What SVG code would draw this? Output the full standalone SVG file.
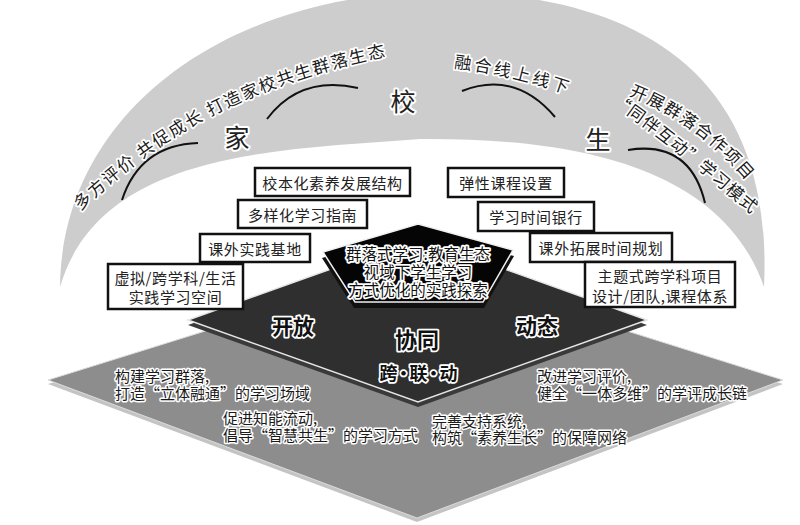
<svg xmlns="http://www.w3.org/2000/svg" width="800" height="525" viewBox="0 0 800 525">
<defs>
<style>
text{font-family:"Noto Sans CJK SC","Noto Sans",sans-serif;}
.halo{paint-order:stroke;stroke:#fff;stroke-linejoin:round;}
.arc{font-size:17px;fill:#1a1a1a;stroke-width:3.5px;letter-spacing:2px;}
.big{font-size:25px;fill:#222;stroke-width:4px;text-anchor:middle;dominant-baseline:central;}
.box rect{fill:#fff;stroke:#111;stroke-width:2.5;}
.box text{font-size:15px;fill:#222;text-anchor:middle;dominant-baseline:central;letter-spacing:0.6px;}
.dark{fill:#111;stroke-width:3.5px;font-weight:bold;text-anchor:middle;dominant-baseline:central;}
.gl{font-size:15px;fill:#1a1a1a;stroke-width:3px;dominant-baseline:central;}
.curve{fill:none;stroke:#111;stroke-width:2;}
</style>
<path id="p1" d="M72,208 C150,135 230,80 400,45"/>
<path id="p2" d="M455,60 Q520,68 585,92"/>
<path id="p3" d="M628,87 Q705,115 762,187"/>
<path id="p4" d="M616,97 Q680,141 768,218"/>
</defs>
<rect width="800" height="525" fill="#fff"/>

<g id="arch">
<path d="M60,287 C62,110 230,-8 440,-8 C620,-8 775,60 764,287 C720,160 560,138 420,139 C280,150 100,150 60,287 Z" fill="#cdcdcd"/>
</g>

<g id="connectors">
<path class="curve" d="M122,200 Q140,145 198,143"/>
<path class="curve" d="M267,119 Q300,75 358,88"/>
<path class="curve" d="M462,91 Q515,70 555,117"/>
<path class="curve" d="M628,150 Q690,140 705,203"/>
</g>

<g id="arch-labels">
<text class="arc halo" dominant-baseline="central"><textPath href="#p1" startOffset="4">多方评价 共促成长 打造家校共生群落生态</textPath></text>
<text class="arc halo" dominant-baseline="central" style="letter-spacing:3px"><textPath href="#p2" startOffset="0">融合线上线下</textPath></text>
<text class="arc halo" dominant-baseline="central"><textPath href="#p3" startOffset="4">开展群落合作项目</textPath></text>
<text class="arc halo" dominant-baseline="central" style="letter-spacing:1px"><textPath href="#p4" startOffset="0">“同伴互动”学习模式</textPath></text>
</g>

<g id="node-jia"><text class="big halo" x="237" y="136">家</text></g>
<g id="node-xiao"><text class="big halo" x="403" y="100">校</text></g>
<g id="node-sheng"><text class="big halo" x="598" y="138">生</text></g>

<g id="layer-bottom">
<polygon points="48,384 417,269 783,384 417,522" fill="#c4c4c4"/>
<polygon points="48,380 417,265 783,380 417,518" fill="#8d8d8d" stroke="#dcdcdc" stroke-width="1"/>
<text class="gl halo" x="115" y="375">构建学习群落,</text>
<text class="gl halo" x="115" y="392">打造“立体融通”的学习场域</text>
<text class="gl halo" x="223" y="417">促进知能流动,</text>
<text class="gl halo" x="223" y="434">倡导“智慧共生”的学习方式</text>
<text class="gl halo" x="537" y="375">改进学习评价,</text>
<text class="gl halo" x="537" y="392">健全“一体多维”的学评成长链</text>
<text class="gl halo" x="432" y="420">完善支持系统,</text>
<text class="gl halo" x="432" y="436">构筑“素养生长”的保障网络</text>
</g>

<g id="layer-middle">
<polygon points="188,325 418,243 647,325 418,407" fill="#3a3a3a"/>
<polygon points="188,320 418,238 647,320 418,402" fill="#2f2f2f" stroke="#e6e6e6" stroke-width="1.5"/>
<text class="dark halo" x="293" y="325" font-size="21">开放</text>
<text class="dark halo" x="417" y="338" font-size="22">协同</text>
<text class="dark halo" x="537" y="325" font-size="21">动态</text>
<text class="dark halo" x="417" y="372" font-size="18" style="letter-spacing:-3px">跨·联·动</text>
</g>

<g id="node-core">
<polygon points="418,230 514,256 484,308 354,308 322,258" fill="#111"/>
<polygon points="418,224 513,250 483,302 355,302 323,252" fill="#050505" stroke="#f0f0f0" stroke-width="1.5"/>
<text class="dark halo" x="418" y="253" font-size="15.5" style="font-weight:normal">群落式学习:教育生态</text>
<text class="dark halo" x="418" y="271" font-size="15.5" style="font-weight:normal">视域下学生学习</text>
<text class="dark halo" x="418" y="289" font-size="15.5" style="font-weight:normal">方式优化的实践探索</text>
</g>

<g id="box-l1" class="box"><rect x="255" y="168" width="155" height="28"/><text x="332.5" y="182">校本化素养发展结构</text></g>
<g id="box-l2" class="box"><rect x="238" y="200" width="129" height="28"/><text x="302.5" y="214">多样化学习指南</text></g>
<g id="box-l3" class="box"><rect x="200" y="234" width="110" height="28"/><text x="255" y="248">课外实践基地</text></g>
<g id="box-l4" class="box"><rect x="108" y="264" width="135" height="45"/><text x="175.5" y="277">虚拟/跨学科/生活</text><text x="175.5" y="296">实践学习空间</text></g>

<g id="box-r1" class="box"><rect x="448" y="168" width="116" height="29"/><text x="506" y="182.5">弹性课程设置</text></g>
<g id="box-r2" class="box"><rect x="478" y="202" width="116" height="29"/><text x="536" y="216.5">学习时间银行</text></g>
<g id="box-r3" class="box"><rect x="530" y="233" width="142" height="29"/><text x="601" y="247.5">课外拓展时间规划</text></g>
<g id="box-r4" class="box"><rect x="585" y="262" width="150" height="45"/><text x="660" y="275">主题式跨学科项目</text><text x="660" y="295">设计/团队,课程体系</text></g>
</svg>
